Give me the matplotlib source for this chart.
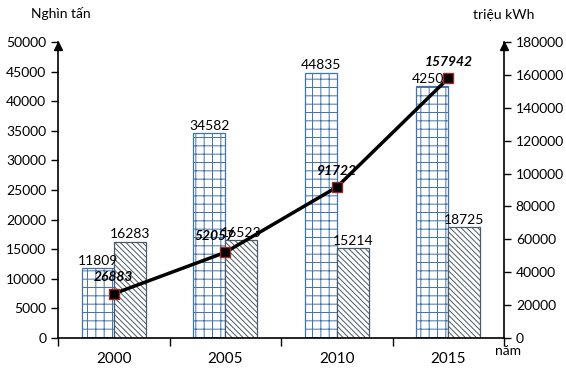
import matplotlib
matplotlib.use("Agg")
import matplotlib.pyplot as plt
import numpy as np

# ── Data ──────────────────────────────────────────────────────────────────────
years     = ["2000", "2005", "2010", "2015"]
series_a  = [11809, 34582, 44835, 42500]      # Nghìn tấn (grid bars)
series_b  = [16283, 16523, 15214, 18725]      # Nghìn tấn (hatched bars)
electric  = [26883, 52057, 91722, 157942]     # triệu kWh (line)
left_ticks  = list(range(0, 50001, 5000))
right_ticks = list(range(0, 180001, 20000))

plt.rcParams["font.family"] = ["Lato", "DejaVu Sans"]
plt.rcParams["hatch.linewidth"] = 0.7

fig = plt.figure(figsize=(5.66, 3.82), dpi=100)
ax = fig.add_axes([58 / 566, 44 / 382, 446 / 566, 296 / 382])
ax2 = ax.twinx()

x = np.arange(len(years))
w = 0.287
BLUE = "#4472a8"
SLATE = "#4a5a66"

ax.bar(x - w / 2, series_a, w, facecolor="white", edgecolor=BLUE,
       hatch="++", linewidth=0.9)
ax.bar(x + w / 2, series_b, w, facecolor="white", edgecolor=SLATE,
       hatch="\\" * 6, linewidth=0.9)

for xi, v in zip(x, series_a):
    ax.annotate(str(v), (xi - w / 2, v), xytext=(0, 1), textcoords="offset points",
                ha="center", va="bottom", fontsize=10)
for xi, v in zip(x, series_b):
    ax.annotate(str(v), (xi + w / 2, v), xytext=(0, 1), textcoords="offset points",
                ha="center", va="bottom", fontsize=10)

ax2.plot(x, electric, color="black", lw=2.5, marker="s", markersize=7.5,
         markerfacecolor="black", markeredgecolor="#9b2a2a", markeredgewidth=1)
label_dx = [0, -8, 0, 0]
for xi, v, dx in zip(x, electric, label_dx):
    ax2.annotate(str(v), (xi, v), xytext=(dx, 12), textcoords="offset points",
                 ha="center", va="center", fontsize=10,
                 fontstyle="italic", fontweight="bold")

ax.set_xlim(-0.5, 3.5)
ax.set_ylim(0, 50000)
ax2.set_ylim(0, 180000)
ax.set_yticks(left_ticks)
ax2.set_yticks(right_ticks)

# x ticks at category boundaries, labels at centres
ax.set_xticks(np.arange(-0.5, 4.0, 1.0))
ax.set_xticklabels([])
ax.set_xticks(x, minor=True)
ax.set_xticklabels(years, minor=True, fontsize=11)
ax.tick_params(axis="x", which="minor", length=0, pad=10)
ax.tick_params(axis="x", which="major", length=6, direction="out", width=1)
ax.tick_params(axis="y", labelsize=10, length=5, width=1)
ax2.tick_params(axis="y", labelsize=10, length=5, width=1)

for a in (ax, ax2):
    a.spines["top"].set_visible(False)
    for s in a.spines.values():
        s.set_linewidth(1.2)
ax.spines["right"].set_visible(False)
ax2.spines["left"].set_visible(False)
ax2.spines["bottom"].set_visible(False)

# arrowheads at top of both vertical axes
ax.plot([0], [0.985], marker="^", color="black", markersize=6,
        transform=ax.transAxes, clip_on=False)
ax.plot([1], [0.985], marker="^", color="black", markersize=6,
        transform=ax.transAxes, clip_on=False)

fig.text(61 / 566, 1 - 14 / 382, "Nghìn tấn", ha="center", va="center", fontsize=10)
fig.text(504 / 566, 1 - 15 / 382, "triệu kWh", ha="center", va="center", fontsize=10)
fig.text(508 / 566, 1 - 351 / 382, "năm", ha="center", va="center", fontsize=10)

fig.savefig("out.png", dpi=100, facecolor="white")
